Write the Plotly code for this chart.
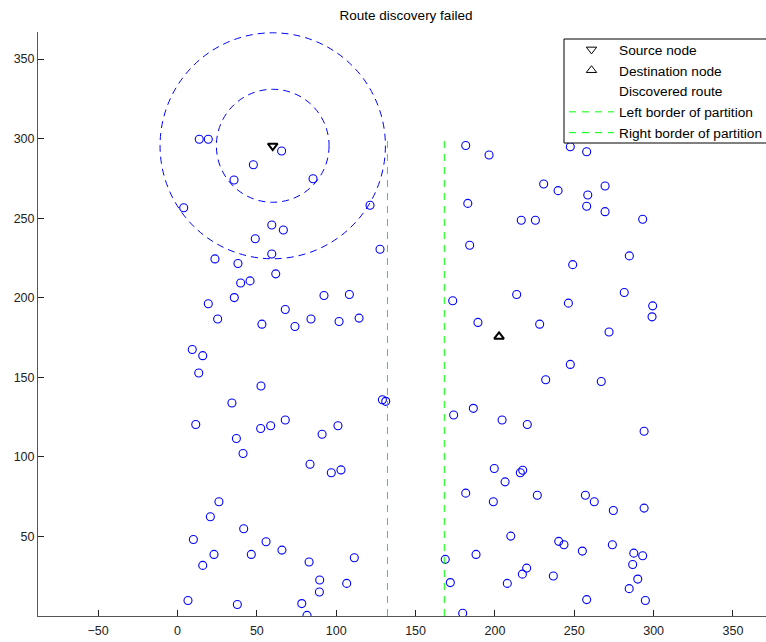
import plotly.graph_objects as go

# ---- data ----
node_x = [13.7, 19.4, 65.6, 47.8, 35.6, 85.4, 3.9, 121.3, 59.4, 66.7, 49.0, 127.6, 23.6, 59.4, 38.1,
          61.9, 39.8, 45.7, 35.8, 92.3, 108.3, 19.4, 67.9, 25.3, 84.1, 101.8, 114.4, 53.2, 74.0,
          9.3, 15.9, 13.4, 52.6, 34.3, 129.1, 131.2, 11.5, 52.4, 58.7, 67.9, 101.1, 37.1, 91.1,
          41.3, 83.5, 96.9, 103.0, 26.1, 20.7, 41.7, 10.0, 55.8, 65.8, 23.0, 46.5, 15.9, 82.9,
          111.4, 89.6, 106.6, 89.4, 6.6, 37.7, 78.3, 81.6,
          181.6, 196.3, 247.5, 257.8, 230.7, 239.8, 269.4, 258.5, 257.8, 269.4, 182.9, 216.6,
          225.5, 293.1, 184.1, 284.7, 249.0, 213.7, 281.5, 173.4, 246.3, 299.4, 299.0, 189.3,
          228.2, 271.9, 247.5, 232.0, 267.0, 186.4, 174.0, 204.5, 220.4, 294.0, 199.6, 217.5,
          216.0, 206.4, 181.6, 199.0, 226.7, 257.0, 262.6, 274.6, 294.0, 210.0, 240.2, 243.5,
          274.0, 255.1, 168.7, 188.1, 287.5, 293.1, 286.8, 220.0, 217.3, 236.8, 290.0, 171.9,
          207.8, 284.6, 257.8, 294.8, 179.7]
node_y = [299.6, 299.6, 292.2, 283.6, 274.0, 274.8, 256.6, 258.1, 245.7, 242.6, 237.1, 230.5, 224.4, 227.5, 221.5,
          215.0, 209.3, 210.6, 200.1, 201.4, 202.0, 196.2, 192.6, 186.6, 186.6, 185.1, 187.2, 183.4, 181.9,
          167.5, 163.6, 152.7, 144.5, 133.9, 135.9, 134.9, 120.3, 117.8, 119.6, 123.2, 119.6, 111.5, 114.2,
          102.1, 95.4, 90.0, 91.8, 71.8, 62.4, 54.8, 48.1, 46.7, 41.4, 38.7, 38.7, 31.8, 33.9,
          36.6, 22.6, 20.5, 15.1, 9.7, 7.2, 7.8, 0.4,
          295.7, 289.7, 294.9, 291.7, 271.5, 267.3, 270.2, 264.6, 257.5, 254.1, 259.3, 248.7,
          248.7, 249.3, 233.0, 226.3, 220.8, 202.0, 203.3, 198.1, 196.6, 194.9, 188.0, 184.5,
          183.4, 178.5, 158.1, 148.5, 147.4, 130.5, 126.3, 123.2, 120.3, 116.1, 92.7, 91.6,
          90.0, 84.3, 77.2, 71.8, 75.9, 75.9, 71.8, 66.3, 67.8, 50.2, 46.9, 44.8,
          44.8, 40.8, 35.6, 38.7, 39.5, 37.9, 32.4, 30.1, 26.3, 25.1, 23.2, 21.0,
          20.5, 17.2, 10.3, 9.7, 1.7]

source_x = [60.0]
source_y = [295.5]
dest_x = [202.6]
dest_y = [175.6]
range_radii = [35.5, 71.0]

left_border_x = [132.3, 132.3]
right_border_x = [168.1, 168.1]
border_y = [0, 300]

x_ticks = [-50, 0, 50, 100, 150, 200, 250, 300, 350]
y_ticks = [50, 100, 150, 200, 250, 300, 350]

# ---- figure ----
W, H = 766, 642
ML, MR, MT, MB = 38, 0, 32, 26
PW, PH = W - ML - MR, H - MT - MB
FONT = "Liberation Sans, Arial, Helvetica, sans-serif"

fig = go.Figure()

fig.add_trace(go.Scatter(x=node_x, y=node_y, mode="markers", showlegend=False,
                         marker=dict(symbol="circle-open", size=8, color="blue",
                                     line=dict(width=1.1, color="blue")),
                         hoverinfo="skip"))

fig.add_trace(go.Scatter(x=source_x, y=source_y, mode="markers", name="Source node",
                         marker=dict(symbol="triangle-down-open", size=8.5, color="black",
                                     line=dict(width=2, color="black")),
                         showlegend=False))
fig.add_trace(go.Scatter(x=[None], y=[None], mode="markers", name="Source node",
                         marker=dict(symbol="triangle-down-open", size=9, color="black",
                                     line=dict(width=1, color="black"))))
fig.add_trace(go.Scatter(x=dest_x, y=dest_y, mode="markers", name="Destination node",
                         marker=dict(symbol="triangle-up-open", size=8.5, color="black",
                                     line=dict(width=2, color="black")),
                         showlegend=False))
fig.add_trace(go.Scatter(x=[None], y=[None], mode="markers", name="Destination node",
                         marker=dict(symbol="triangle-up-open", size=9, color="black",
                                     line=dict(width=1, color="black"))))
fig.add_trace(go.Scatter(x=[None], y=[None], mode="lines", name="Discovered route",
                         line=dict(color="rgba(0,0,0,0)", width=1)))
fig.add_trace(go.Scatter(x=left_border_x, y=border_y, mode="lines", name="Left border of partition",
                         line=dict(color="#00ff00", width=1, dash="7px,6px")))
fig.add_trace(go.Scatter(x=right_border_x, y=border_y, mode="lines", name="Right border of partition",
                         line=dict(color="#00ff00", width=1, dash="7px,6px")))

shapes = []
for r in range_radii:
    shapes.append(dict(type="circle", xref="x", yref="y",
                       x0=source_x[0] - r, x1=source_x[0] + r,
                       y0=source_y[0] - r, y1=source_y[0] + r,
                       line=dict(color="blue", width=1, dash="7px,5px"), layer="below"))
# legend box (drawn as a shape so it can run past the right edge)
shapes.append(dict(type="rect", xref="paper", yref="paper",
                   x0=(564 - ML) / PW, x1=(790 - ML) / PW,
                   y0=(H - MB - 143) / PH, y1=(H - MB - 39) / PH,
                   fillcolor="white", line=dict(color="black", width=1), layer="above"))

fig.update_layout(
    width=W, height=H,
    margin=dict(l=ML, r=MR, t=MT, b=MB, autoexpand=False),
    paper_bgcolor="white", plot_bgcolor="white",
    font=dict(family=FONT, size=12, color="#000000"),
    shapes=shapes,
    title=dict(text="Route discovery failed", x=406 / W, xanchor="center",
               y=1 - 15 / H, yanchor="middle", yref="container", xref="container",
               font=dict(size=13.5, color="#000000", family=FONT)),
    xaxis=dict(range=[-87.9, 370.8], tickvals=x_ticks, ticks="inside", ticklen=6,
               tickcolor="#222", showgrid=False, zeroline=False, showline=True,
               linecolor="#555", linewidth=1, tickfont=dict(size=12.5, color="#222"),
               ticklabelstandoff=3),
    yaxis=dict(range=[0, 367], tickvals=y_ticks, ticks="inside", ticklen=6,
               tickcolor="#222", showgrid=False, zeroline=False, showline=True,
               linecolor="#555", linewidth=1, tickfont=dict(size=12.5, color="#222")),
    legend=dict(x=(564 - ML) / PW, y=(H - MB - 34) / PH,
                xanchor="left", yanchor="top", bgcolor="rgba(0,0,0,0)",
                borderwidth=0,
                font=dict(size=13.7, color="#000", family=FONT),
                tracegroupgap=0, itemwidth=45),
)

fig.write_html("out.html")
